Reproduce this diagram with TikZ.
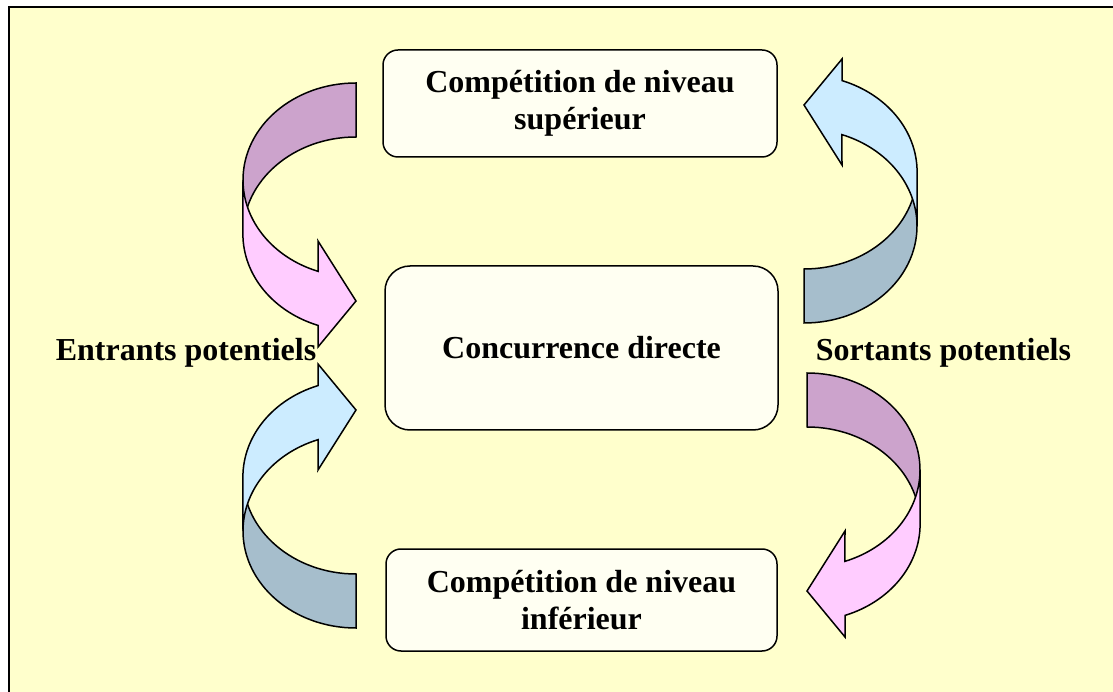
\documentclass[tikz,border=0pt]{standalone}
\usepackage{fontspec}
\setmainfont{Liberation Serif}
\usepackage{tikz}

\definecolor{fondjaune}{RGB}{255,255,204}
\definecolor{creme}{RGB}{255,255,242}
\definecolor{mauve}{RGB}{204,163,204}
\definecolor{rose}{RGB}{255,204,255}
\definecolor{ciel}{RGB}{204,236,255}
\definecolor{ardoise}{RGB}{166,190,204}

% curved arrow: tail face in #1, head face in #2
\newcommand{\courbe}[2]{%
\filldraw[fleche, fill=#1] (0,124) arc[start angle=90, end angle=180, x radius=113, y radius=97] -- (-113,-27) arc[start angle=180, end angle=90, x radius=113, y radius=97] -- cycle;
\filldraw[fleche, fill=#2] (-113,27) arc[start angle=180, end angle=250.4, x radius=113, y radius=97] -- (-38,-34) -- (0,-94) -- (-38,-140) -- (-38,-118.4) arc[start angle=250.4, end angle=180, x radius=113, y radius=97] -- cycle;}

\begin{document}
\begin{tikzpicture}[x=1pt, y=1pt,
  fleche/.style={line width=1.5pt},
  niveau/.style={draw, line width=1.5pt, fill=creme, rounded corners=15pt, align=center, inner sep=0pt, font=\fontsize{32}{37}\selectfont\bfseries},
  etiquette/.style={inner sep=0pt, font=\fontsize{32}{37}\selectfont\bfseries}]
\useasboundingbox (0,0) rectangle (1113,691);
\fill[white] (0,0) rectangle (1113,691);
\filldraw[fill=fondjaune, line width=2pt] (9,684) rectangle (1130,-20); % cadre
\begin{scope}[shift={(356,484)}] \courbe{mauve}{rose} \end{scope} % haut gauche
\begin{scope}[shift={(804,492)}, xscale=-1, yscale=-1] \courbe{ardoise}{ciel} \end{scope} % haut droite
\begin{scope}[shift={(356,187)}, yscale=-1] \courbe{ardoise}{ciel} \end{scope} % bas gauche
\begin{scope}[shift={(807,194)}, xscale=-1] \courbe{mauve}{rose} \end{scope} % bas droite
\node[niveau, minimum width=394, minimum height=107] (sup) at (580,587.5) {Compétition de niveau\\supérieur};
\node[niveau, minimum width=393, minimum height=164, rounded corners=25pt] (dir) at (581.5,343) {Concurrence directe};
\node[niveau, minimum width=391, minimum height=102] (inf) at (581.5,91) {Compétition de niveau\\inférieur};
\node[etiquette, anchor=base] (entrants) at (186,330.5) {Entrants potentiels};
\node[etiquette, anchor=base] (sortants) at (943.5,330.5) {Sortants potentiels};
\end{tikzpicture}
\end{document}
